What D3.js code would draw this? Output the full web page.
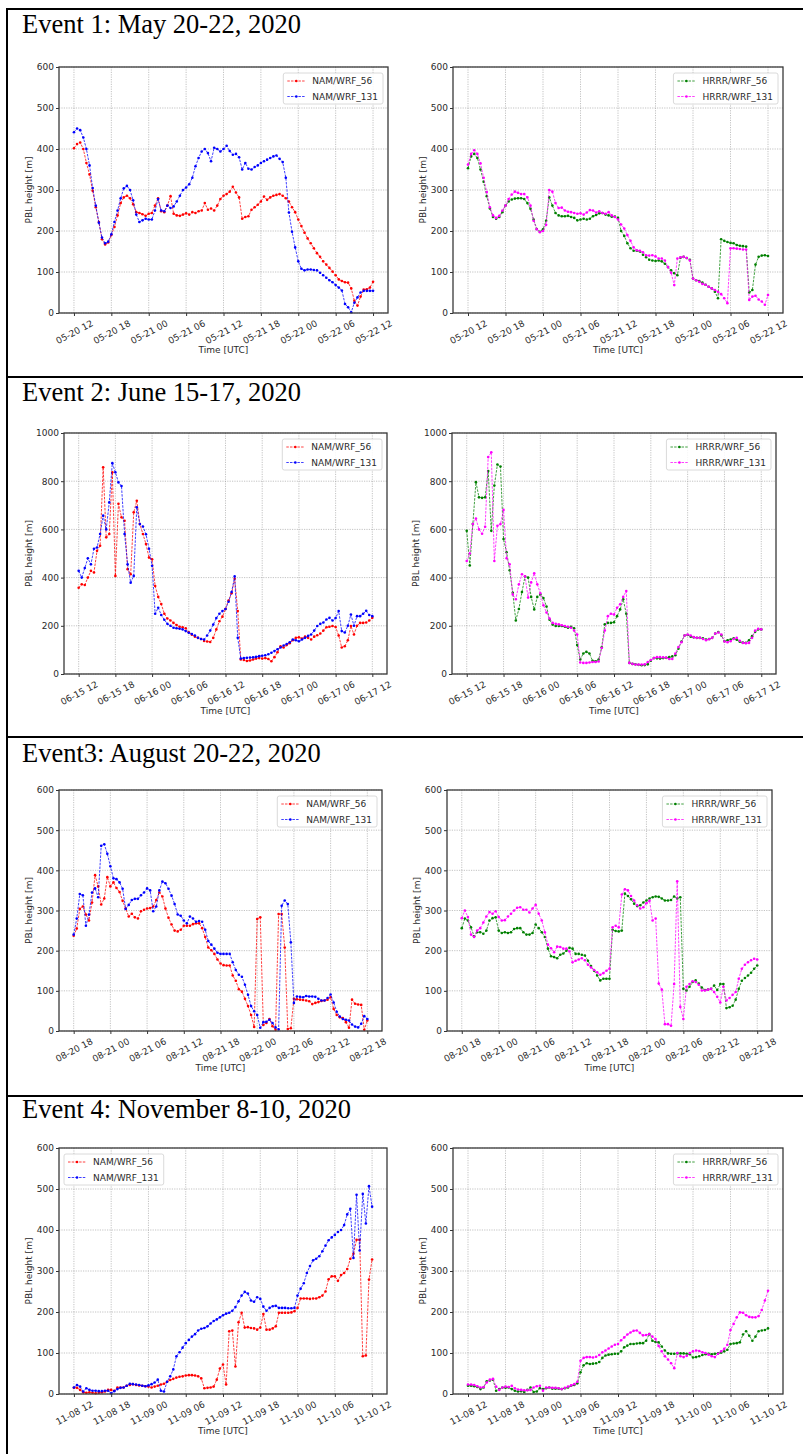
<!DOCTYPE html>
<html>
<head>
<meta charset="utf-8">
<script src="https://cdn.jsdelivr.net/npm/d3@7"></script>
<style>
body { margin: 0; background: #fff; }
svg { display: block; }
</style>
</head>
<body>
<script>
// half-hourly samples, 0 .. 48 h after the first tick
var hours = d3.range(0, 48.01, 0.5);
var tickHours = [0, 6, 12, 18, 24, 30, 36, 42, 48];

var e1Ticks = ["05-20 12", "05-20 18", "05-21 00", "05-21 06", "05-21 12", "05-21 18", "05-22 00", "05-22 06", "05-22 12"];
var e2Ticks = ["06-15 12", "06-15 18", "06-16 00", "06-16 06", "06-16 12", "06-16 18", "06-17 00", "06-17 06", "06-17 12"];
var e3Ticks = ["08-20 18", "08-21 00", "08-21 06", "08-21 12", "08-21 18", "08-22 00", "08-22 06", "08-22 12", "08-22 18"];
var e4Ticks = ["11-08 12", "11-08 18", "11-09 00", "11-09 06", "11-09 12", "11-09 18", "11-10 00", "11-10 06", "11-10 12"];

var titles = ["Event 1: May 20-22, 2020", "Event 2: June 15-17, 2020", "Event3: August 20-22, 2020", "Event 4: November 8-10, 2020"];

var namNames = ["NAM/WRF_56", "NAM/WRF_131"];
var hrrrNames = ["HRRR/WRF_56", "HRRR/WRF_131"];

// Event 1
var e1Nam56 = [402,412,416,400,366,338,298,258,222,180,
  167,172,190,210,238,268,282,286,280,265,
  246,244,241,237,242,244,262,280,248,246,
  262,285,242,238,237,240,243,240,246,244,
  248,250,268,252,255,250,262,278,286,290,
  296,308,294,282,230,234,236,252,258,264,
  272,284,276,282,286,288,290,286,280,272,
  258,246,228,212,196,182,170,158,146,137,
  126,118,110,101,92,82,78,75,74,60,
  30,18,40,57,58,62,76];
var e1Nam131 = [441,450,446,428,400,360,305,262,220,184,
  170,174,192,222,250,280,304,310,300,275,
  240,222,226,230,228,228,250,278,250,248,
  262,256,260,272,286,300,306,314,330,358,
  378,394,400,390,370,403,400,394,400,408,
  395,386,388,380,350,366,352,350,356,360,
  366,370,374,378,382,384,376,368,330,245,
  198,160,126,108,104,106,106,105,104,98,
  92,86,80,75,68,62,55,22,14,2,
  25,38,50,54,54,54,54];
var e1Hrrr56 = [353,382,388,378,350,320,285,255,234,230,
  234,246,262,272,277,279,280,280,278,268,
  254,228,205,198,204,225,282,262,244,238,
  236,236,237,234,232,226,228,230,228,230,
  236,239,243,244,240,238,235,235,232,200,
  188,170,158,152,152,150,142,136,130,128,
  127,128,126,120,112,104,97,92,135,137,
  134,130,84,80,78,74,69,64,60,52,
  36,180,176,173,171,170,166,164,163,162,
  50,56,118,137,140,141,139];
var e1Hrrr131 = [362,388,397,388,365,330,295,258,238,232,
  237,250,262,278,289,296,293,290,290,282,
  262,225,204,197,200,215,300,296,268,256,
  257,250,247,246,244,242,243,240,245,251,
  250,245,248,244,242,246,238,234,228,216,
  206,190,176,160,153,152,148,141,140,141,
  138,133,133,128,112,98,68,133,136,137,
  134,128,84,80,76,71,69,64,60,56,
  52,46,36,24,158,158,157,156,155,155,
  32,40,42,33,28,20,44];

// Event 2
var e2Nam56 = [358,372,369,400,428,421,511,532,858,567,
  581,837,407,706,650,636,435,414,671,719,
  622,581,539,483,476,365,320,290,250,230,
  222,212,203,196,194,190,173,163,155,150,
  145,137,135,133,150,185,219,238,270,305,
  335,395,261,60,58,54,56,60,64,66,
  64,66,62,53,70,90,115,110,120,128,
  140,150,152,147,155,150,143,155,161,168,
  180,194,196,199,195,160,110,115,140,199,
  164,200,212,212,214,222,233];
var e2Nam131 = [428,400,440,480,455,520,525,581,657,600,
  712,875,837,795,780,581,455,379,407,692,
  622,612,580,520,449,250,275,245,225,208,
  200,192,190,188,185,178,171,166,160,150,
  145,143,160,180,205,232,250,261,270,300,
  340,405,150,64,66,67,68,69,71,74,
  76,78,82,88,95,103,110,118,124,132,
  143,140,136,143,150,158,164,180,199,208,
  214,226,233,222,232,261,178,172,200,247,
  200,240,240,250,262,245,240];
var e2Hrrr56 = [594,450,622,796,733,731,733,842,594,782,
  869,861,560,505,430,337,222,270,340,405,
  400,320,268,320,330,315,280,225,205,199,
  199,199,196,192,196,190,120,60,85,92,
  85,55,53,60,111,206,212,212,215,240,
  268,310,250,46,42,40,38,36,37,40,
  55,66,65,64,66,67,70,73,78,105,
  135,160,162,155,152,150,150,148,143,145,
  150,168,174,160,136,140,143,148,142,134,
  130,129,140,157,175,185,185];
var e2Hrrr131 = [469,500,622,645,600,582,611,900,920,469,
  615,622,681,480,455,330,310,372,414,405,
  317,380,418,372,335,285,255,230,212,208,
  206,202,199,196,192,180,164,48,46,46,
  48,50,50,52,108,180,240,250,247,275,
  289,320,344,46,42,39,39,39,40,50,
  58,66,70,70,69,68,62,62,85,112,
  132,160,164,160,153,150,150,145,140,144,
  150,168,172,164,135,132,136,145,150,138,
  129,128,129,150,180,188,185];

// Event 3
var e3Nam56 = [237,255,304,310,290,275,320,388,360,315,
  330,383,360,370,356,346,324,305,285,292,
  283,280,298,302,305,306,310,326,345,335,
  305,282,265,250,248,252,262,262,262,266,
  268,268,256,234,208,201,192,178,168,164,
  163,163,138,125,104,98,80,62,40,10,
  279,283,15,20,30,12,3,291,291,208,
  5,7,80,79,78,77,76,74,67,70,
  72,75,76,78,84,55,40,34,32,22,
  8,78,68,66,65,3,26];
var e3Nam131 = [240,280,341,338,262,290,345,355,333,461,
  465,441,410,380,378,370,354,304,314,326,
  329,329,338,345,355,350,298,310,350,372,
  368,354,337,316,290,287,275,268,285,280,
  272,274,272,252,224,215,205,195,192,192,
  192,192,171,152,140,135,115,90,62,49,
  40,8,22,23,28,20,9,4,312,325,
  316,221,70,86,85,84,87,86,86,85,
  80,76,76,82,91,71,48,36,30,28,
  26,16,11,9,18,37,30];
var e3Hrrr56 = [256,280,275,258,236,246,246,242,250,275,
  281,283,250,244,246,244,246,254,256,256,
  246,240,240,244,265,256,246,234,205,186,
  184,181,190,193,200,207,205,192,192,190,
  188,175,162,150,138,126,130,130,130,252,
  249,248,250,342,336,328,317,311,313,320,
  325,330,333,335,334,330,325,325,326,335,
  330,333,105,101,110,122,126,118,108,102,
  103,105,113,102,117,117,57,59,63,78,
  105,125,132,138,145,155,163];
var e3Hrrr131 = [281,300,284,240,234,250,256,270,285,296,
  292,298,284,275,276,285,292,300,307,308,
  302,302,295,305,314,292,275,246,215,206,
  196,210,209,205,205,198,171,175,178,181,
  176,165,158,152,146,140,144,150,155,258,
  262,258,340,353,350,336,325,313,305,308,
  318,324,275,280,118,103,17,17,13,117,
  373,60,30,110,117,124,122,115,101,101,
  103,105,97,85,71,110,76,82,90,97,
  130,155,165,171,176,180,178];

// Event 4
var e4Nam56 = [15,15,10,4,3,4,3,2,3,4,
  6,10,10,8,16,16,16,20,22,24,
  22,21,20,19,18,16,18,20,23,25,
  30,34,37,40,42,43,45,46,46,45,
  43,38,14,15,16,18,35,62,72,23,
  153,155,67,175,198,162,163,161,160,157,
  162,195,157,157,160,165,198,198,198,198,
  199,202,210,233,233,233,232,233,233,236,
  240,250,280,287,287,276,290,295,305,330,
  342,376,376,92,94,279,328];
var e4Nam131 = [16,22,18,6,14,10,8,8,7,7,
  8,8,2,7,12,15,16,20,25,24,
  23,22,20,19,21,24,28,35,8,6,
  30,43,60,92,102,113,124,132,140,146,
  155,159,161,165,172,178,182,187,192,196,
  198,203,212,226,240,249,245,228,225,236,
  232,213,203,210,214,215,210,210,210,209,
  209,210,240,257,270,295,312,326,330,336,
  348,362,375,382,388,395,400,412,438,452,
  332,486,350,488,416,507,457];
var e4Hrrr56 = [20,20,19,17,12,16,31,33,35,8,
  12,16,15,16,12,8,6,7,5,10,
  16,5,6,14,12,14,16,13,13,13,
  12,14,16,20,22,26,53,70,75,73,
  74,75,78,88,94,96,97,98,98,104,
  114,118,122,122,123,124,124,130,146,130,
  127,126,116,106,99,98,98,99,99,99,
  98,97,89,90,92,95,97,98,97,98,
  99,101,104,108,122,123,124,126,145,153,
  142,130,140,153,155,156,160];
var e4Hrrr131 = [23,23,22,19,16,17,28,35,37,18,
  10,16,18,17,20,14,11,10,9,9,
  10,16,19,20,8,16,16,15,15,14,
  12,15,18,21,24,30,81,88,90,90,
  89,91,95,102,106,111,116,120,122,131,
  138,145,150,154,155,149,143,144,146,140,
  134,117,104,92,84,75,63,100,92,90,
  93,100,104,106,105,102,100,96,92,90,
  98,104,110,120,156,171,187,199,198,192,
  188,187,187,190,205,228,252];

var W = 803, H = 1454;
var svg = d3.select("body").append("svg").attr("width", W).attr("height", H);

// table frame
var rowLines = [9, 377, 737, 1096];
var titleBase = [33, 401, 762, 1118];
svg.append("line").attr("x1", 7).attr("x2", 7).attr("y1", 8).attr("y2", H)
  .attr("stroke", "#000").attr("stroke-width", 2);
svg.selectAll(".rowline").data(rowLines).join("line")
  .attr("class", "rowline")
  .attr("x1", 6).attr("x2", W).attr("y1", d => d).attr("y2", d => d)
  .attr("stroke", "#000").attr("stroke-width", 2);
svg.selectAll(".title").data(titles).join("text")
  .attr("class", "title")
  .attr("x", 22).attr("y", (d, i) => titleBase[i])
  .style("font-family", "'Liberation Serif', 'Times New Roman', serif")
  .style("font-size", "26.5px")
  .text(d => d);

var panels = [
  {box: [59, 67, 388, 313], ymax: 600, ylab: 30, data: [e1Nam56, e1Nam131], names: namNames, colors: ["#ff0000", "#0000ff"], ticks: e1Ticks, leg: "right"},
  {box: [453, 67, 783, 313], ymax: 600, ylab: 30, data: [e1Hrrr56, e1Hrrr131], names: hrrrNames, colors: ["#008000", "#ff00ff"], ticks: e1Ticks, leg: "right"},
  {box: [64, 433, 387, 674], ymax: 1000, ylab: 35, data: [e2Nam56, e2Nam131], names: namNames, colors: ["#ff0000", "#0000ff"], ticks: e2Ticks, leg: "right"},
  {box: [452, 433, 776, 674], ymax: 1000, ylab: 36, data: [e2Hrrr56, e2Hrrr131], names: hrrrNames, colors: ["#008000", "#ff00ff"], ticks: e2Ticks, leg: "right"},
  {box: [59, 790, 382, 1031], ymax: 600, ylab: 30, data: [e3Nam56, e3Nam131], names: namNames, colors: ["#ff0000", "#0000ff"], ticks: e3Ticks, leg: "right"},
  {box: [447, 790, 772, 1031], ymax: 600, ylab: 30, data: [e3Hrrr56, e3Hrrr131], names: hrrrNames, colors: ["#008000", "#ff00ff"], ticks: e3Ticks, leg: "right"},
  {box: [59, 1148, 387, 1394], ymax: 600, ylab: 30, data: [e4Nam56, e4Nam131], names: namNames, colors: ["#ff0000", "#0000ff"], ticks: e4Ticks, leg: "left"},
  {box: [453, 1148, 783, 1394], ymax: 600, ylab: 30, data: [e4Hrrr56, e4Hrrr131], names: hrrrNames, colors: ["#008000", "#ff00ff"], ticks: e4Ticks, leg: "right"}
];

var font = "'DejaVu Sans', sans-serif";
var txtCol = "#2a2a2a";

panels.forEach(function(p) {
  p.data.forEach(function(s, k) {
    if (s.length !== hours.length) throw new Error("series length " + s.length + " in " + p.names[k]);
  });
  var L = p.box[0], T = p.box[1], R = p.box[2], B = p.box[3];
  var x = d3.scaleLinear().domain([-2.4, 50.4]).range([L, R]);
  var y = d3.scaleLinear().domain([0, p.ymax]).range([B, T]);
  var yTicks = d3.range(0, p.ymax + 1, p.ymax === 1000 ? 200 : 100);
  var g = svg.append("g");

  // grid
  g.selectAll(".gx").data(tickHours).join("line")
    .attr("x1", d => x(d)).attr("x2", d => x(d)).attr("y1", T).attr("y2", B)
    .attr("stroke", "#9a9a9a").attr("stroke-width", 0.6).attr("stroke-dasharray", "1.2,1.2");
  g.selectAll(".gy").data(yTicks).join("line")
    .attr("x1", L).attr("x2", R).attr("y1", d => y(d)).attr("y2", d => y(d))
    .attr("stroke", "#9a9a9a").attr("stroke-width", 0.6).attr("stroke-dasharray", "1.2,1.2");

  // axes
  var gx = g.append("g").attr("transform", "translate(0," + B + ")")
    .call(d3.axisBottom(x).tickValues(tickHours).tickSize(3).tickFormat((d, i) => p.ticks[i]));
  gx.select(".domain").remove();
  gx.selectAll("line").attr("stroke", "#333");
  gx.selectAll("text")
    .attr("y", 0).attr("dy", "0.35em")
    .attr("text-anchor", "middle")
    .attr("transform", "translate(0,19) rotate(-28)")
    .style("font-family", font).style("font-size", "9px").attr("fill", txtCol);

  var gy = g.append("g").attr("transform", "translate(" + L + ",0)")
    .call(d3.axisLeft(y).tickValues(yTicks).tickSize(3).tickPadding(2).tickFormat(d3.format("d")));
  gy.select(".domain").remove();
  gy.selectAll("line").attr("stroke", "#333");
  gy.selectAll("text").style("font-family", font).style("font-size", "9px").attr("fill", txtCol);

  g.append("text")
    .attr("x", (L + R) / 2).attr("y", B + 37).attr("dy", "0.35em")
    .attr("text-anchor", "middle")
    .style("font-family", font).style("font-size", "9px").attr("fill", txtCol)
    .text("Time [UTC]");
  g.append("text")
    .attr("transform", "translate(" + (L - p.ylab) + "," + ((T + B) / 2) + ") rotate(-90)")
    .attr("dy", "0.35em")
    .attr("text-anchor", "middle")
    .style("font-family", font).style("font-size", "9px").attr("fill", txtCol)
    .text("PBL height [m]");

  // series
  var line = d3.line().x((d, i) => x(hours[i])).y(d => y(d));
  p.data.forEach(function(s, k) {
    g.append("path").attr("d", line(s))
      .attr("fill", "none").attr("stroke", p.colors[k])
      .attr("stroke-width", 0.75).attr("stroke-dasharray", "2.5,1.2");
    g.append("g").selectAll("circle").data(s).join("circle")
      .attr("cx", (d, i) => x(hours[i])).attr("cy", d => y(d))
      .attr("r", 1.3).attr("fill", p.colors[k]);
  });

  // frame
  g.append("rect").attr("x", L).attr("y", T).attr("width", R - L).attr("height", B - T)
    .attr("fill", "none").attr("stroke", "#3a3a3a").attr("stroke-width", 1.3);

  // legend
  var lg = g.append("g");
  var items = lg.selectAll("g").data(p.names).join("g")
    .attr("transform", (d, i) => "translate(0," + (8 + i * 15.5) + ")");
  items.append("text").attr("x", 29).attr("dy", "0.35em")
    .style("font-family", font).style("font-size", "9px").attr("fill", txtCol)
    .text(d => d);
  var tw = d3.max(items.selectAll("text").nodes(), n => n.getComputedTextLength());
  var bw = 29 + tw + 5, bh = 31;
  lg.insert("rect", ":first-child")
    .attr("x", 0).attr("y", 0).attr("width", bw).attr("height", bh).attr("rx", 2)
    .attr("fill", "#fff").attr("fill-opacity", 0.85).attr("stroke", "#d0d0d0").attr("stroke-width", 0.8);
  items.append("line").attr("x1", 4).attr("x2", 22).attr("y1", 0).attr("y2", 0)
    .attr("stroke", (d, i) => p.colors[i]).attr("stroke-width", 0.75).attr("stroke-dasharray", "2.5,1.2");
  items.append("circle").attr("cx", 13).attr("cy", 0).attr("r", 1.3).attr("fill", (d, i) => p.colors[i]);
  var lx = p.leg === "right" ? R - 5 - bw : L + 5;
  lg.attr("transform", "translate(" + lx + "," + (T + 6) + ")");
});
</script>
</body>
</html>
